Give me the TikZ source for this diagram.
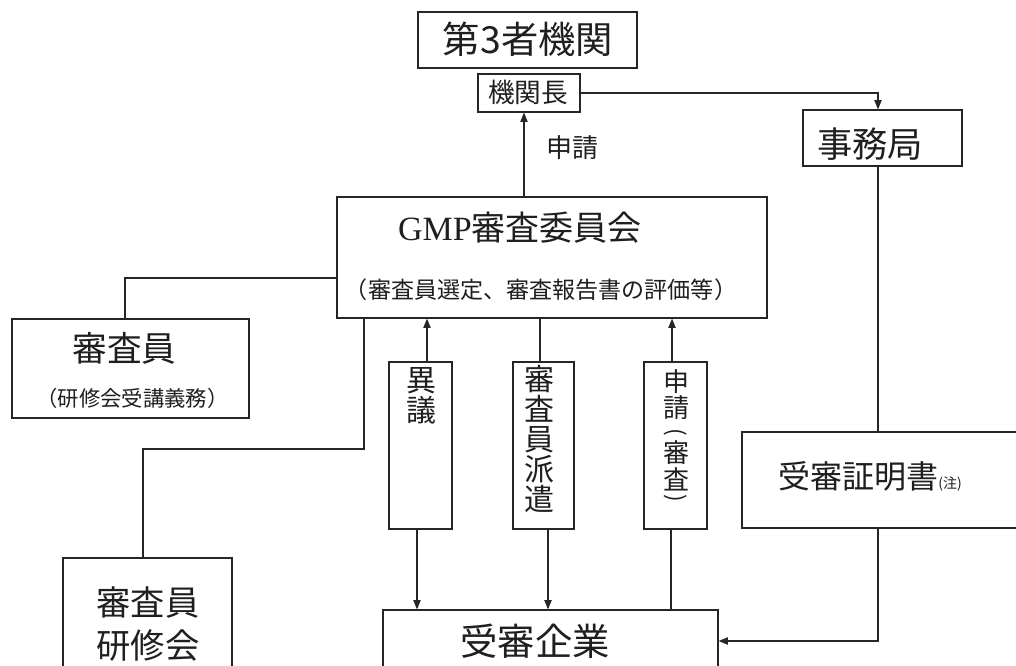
\documentclass[tikz,border=0pt]{standalone}
\usepackage{fontspec}
\newfontfamily\jp{Noto Sans CJK JP}
\newfontfamily\tms{Liberation Serif}
\usetikzlibrary{arrows.meta}
\def\pxu{0.75pt}
\begin{document}
\begin{tikzpicture}[x=0.75pt,y=-0.75pt,
  box/.style={draw=black!85, line width=0.9pt, rectangle, inner sep=0pt},
  txt/.style={inner sep=0pt, text=black!88},
  ln/.style={draw=black!85, line width=0.8pt},
  arr/.style={ln, -{Triangle[length=7pt,width=5.5pt]}},
  fs/.style={font=\jp\fontsize{#1}{#1}\selectfont}
]
\fill[white] (0,0) rectangle (1016,666);
\useasboundingbox (0,0) rectangle (1016,666);
\clip (0,0) rectangle (1016,666);

% boxes
\node[box, minimum width=219*\pxu, minimum height=56*\pxu] (inst) at (527.5,40) {};
\node[box, minimum width=102*\pxu, minimum height=38*\pxu] (head) at (529,93) {};
\node[box, minimum width=159*\pxu, minimum height=56*\pxu] (office) at (882.5,138) {};
\node[box, minimum width=430*\pxu, minimum height=121*\pxu] (gmp) at (552,257.5) {};
\node[box, minimum width=237*\pxu, minimum height=99*\pxu] (judge) at (130.5,368.5) {};
\node[box, minimum width=169*\pxu, minimum height=132*\pxu] (train) at (147.5,624) {};
\node[box, minimum width=63*\pxu, minimum height=167*\pxu] (v1) at (420.5,445.5) {};
\node[box, minimum width=61*\pxu, minimum height=167*\pxu] (v2) at (543.5,445.5) {};
\node[box, minimum width=63*\pxu, minimum height=167*\pxu] (v3) at (675.5,445.5) {};
\node[box, minimum width=335*\pxu, minimum height=62*\pxu] (comp) at (550.5,641) {};
\node[box, minimum width=288*\pxu, minimum height=96*\pxu] (cert) at (886,480) {};

% texts
\node[txt, fs=28pt] (tinst) at (528,39) {第3者機関};
\node[txt, fs=20pt] (thead) at (528,92) {機関長};
\node[txt, fs=19.5pt] (tapply) at (572.5,148) {申請};
\node[txt, fs=26.5pt] (toffice) at (870,144) {事務局};
\node[txt, fs=25.5pt] (tgmp1) at (520,228) {{\tms\fontsize{25.5pt}{25.5pt}\selectfont GMP}審査委員会};
\node[txt, fs=17.3pt] (tgmp2) at (541,290) {（審査員選定、審査報告書の評価等）};
\node[txt, fs=26pt] (tjudge1) at (124.5,348) {審査員};
\node[txt, fs=16pt] (tjudge2) at (132.5,398) {（研修会受講義務）};
\node[txt, fs=25.7pt] (ttrain1) at (148,603) {審査員};
\node[txt, fs=25.7pt] (ttrain2) at (148,646) {研修会};
\node[txt, fs=22.5pt, align=center] (tv1) at (421,396) {異\\議};
\node[txt, fs=22.5pt, align=center] (tv2) at (539,439) {審\\査\\員\\派\\遣};
% vertical text 申請（審査）
\node[txt, fs=19.5pt] (tv3a) at (676,382) {申};
\node[txt, fs=19.5pt] (tv3b) at (676,408) {請};
\node[txt, fs=17pt, rotate=-90] (tv3c) at (676,432) {(};
\node[txt, fs=19.5pt] (tv3d) at (676,453) {審};
\node[txt, fs=19.5pt] (tv3e) at (676,479) {査};
\node[txt, fs=17pt, rotate=-90] (tv3f) at (676,498) {)};
\node[txt, fs=28pt] (tcomp) at (535,641) {受審企業};
\node[txt, fs=24pt] (tcert) at (870,476) {受審証明書{\fontsize{10.5pt}{10.5pt}\selectfont (注)}};

% helper x positions
\coordinate (xa) at (524,0);
\coordinate (xoff) at (878,0);
\coordinate (xj) at (125,0);
\coordinate (xt) at (143,0);
\coordinate (xg) at (364,0);
\coordinate (x1u) at (427,0);
\coordinate (x1d) at (417,0);
\coordinate (x2u) at (540,0);
\coordinate (x2d) at (548,0);
\coordinate (x3u) at (672,0);
\coordinate (x3d) at (671,0);
\coordinate (yj) at (0,278);
\coordinate (yt) at (0,449);

% connectors
\draw[arr] (gmp.north -| xa) -- (head.south -| xa);
\draw[arr] (head.east) -| (office.north -| xoff);
\draw[ln] (office.south -| xoff) -- (cert.north -| xoff);
\draw[arr] (cert.south -| xoff) |- (comp.east);
\draw[ln] (judge.north -| xj) |- (gmp.west |- yj);
\draw[ln] (train.north -| xt) |- (xg |- yt) -- (gmp.south -| xg);
\draw[arr] (v1.north -| x1u) -- (gmp.south -| x1u);
\draw[arr] (v1.south -| x1d) -- (comp.north -| x1d);
\draw[ln] (gmp.south -| x2u) -- (v2.north -| x2u);
\draw[arr] (v2.south -| x2d) -- (comp.north -| x2d);
\draw[arr] (v3.north -| x3u) -- (gmp.south -| x3u);
\draw[ln] (v3.south -| x3d) -- (comp.north -| x3d);
\end{tikzpicture}
\end{document}
